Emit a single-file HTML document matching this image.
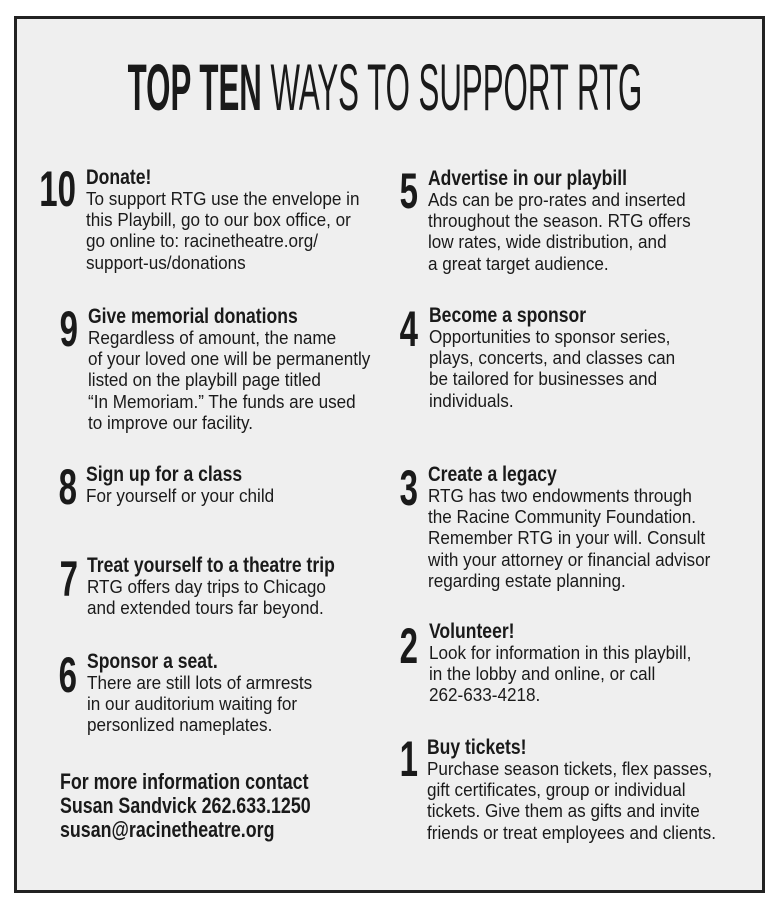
<!DOCTYPE html>
<html><head><meta charset="utf-8">
<style>
html,body{margin:0;padding:0;background:#fff;}
body{width:783px;height:911px;position:relative;overflow:hidden;font-family:"Liberation Sans Narrow","Liberation Sans",sans-serif;color:#1a1a1a;}
#frame{position:absolute;left:14px;top:16px;width:745px;height:871px;border:3px solid #222;background:#efefef;}
#title{position:absolute;left:385px;top:52px;white-space:nowrap;font-size:66px;line-height:70px;transform:translateX(-50%) scaleX(0.473);transform-origin:center;}
#title b{font-weight:bold;}
.item{position:absolute;}
.num{position:absolute;font-weight:bold;font-size:50px;line-height:50px;transform:scaleX(0.66);transform-origin:right top;text-align:right;width:60px;}
.h{font-weight:bold;font-size:21px;line-height:22px;white-space:nowrap;transform:scaleX(0.836);transform-origin:left top;}
.b{font-size:18px;line-height:21.2px;white-space:nowrap;transform:scaleX(0.95);transform-origin:left top;}
#contact{position:absolute;left:60px;top:770px;font-weight:bold;font-size:22px;line-height:24px;white-space:nowrap;transform:scaleX(0.81);transform-origin:left top;}
</style></head><body>
<div id="frame"></div>
<div id="title"><b>TOP TEN</b> WAYS TO SUPPORT RTG</div>

<div class="num" style="left:16px;top:164px">10</div>
<div class="item" style="left:86px;top:167px">
<div class="h">Donate!</div>
<div class="b">To support RTG use the envelope in<br>this Playbill, go to our box office, or<br>go online to: racinetheatre.org/<br>support-us/donations</div></div>

<div class="num" style="left:18px;top:304px">9</div>
<div class="item" style="left:88px;top:306px">
<div class="h">Give memorial donations</div>
<div class="b">Regardless of amount, the name<br>of your loved one will be permanently<br>listed on the playbill page titled<br>“In Memoriam.” The funds are used<br>to improve our facility.</div></div>

<div class="num" style="left:17px;top:462px">8</div>
<div class="item" style="left:86px;top:464px">
<div class="h">Sign up for a class</div>
<div class="b">For yourself or your child</div></div>

<div class="num" style="left:18px;top:554px">7</div>
<div class="item" style="left:87px;top:555px">
<div class="h">Treat yourself to a theatre trip</div>
<div class="b">RTG offers day trips to Chicago<br>and extended tours far beyond.</div></div>

<div class="num" style="left:17px;top:650px">6</div>
<div class="item" style="left:87px;top:651px">
<div class="h">Sponsor a seat.</div>
<div class="b">There are still lots of armrests<br>in our auditorium waiting for<br>personlized nameplates.</div></div>

<div id="contact">For more information contact<br>Susan Sandvick 262.633.1250<br>susan@racinetheatre.org</div>

<div class="num" style="left:358px;top:166px">5</div>
<div class="item" style="left:428px;top:168px">
<div class="h">Advertise in our playbill</div>
<div class="b">Ads can be pro-rates and inserted<br>throughout the season. RTG offers<br>low rates, wide distribution, and<br>a great target audience.</div></div>

<div class="num" style="left:358px;top:304px">4</div>
<div class="item" style="left:429px;top:305px">
<div class="h">Become a sponsor</div>
<div class="b">Opportunities to sponsor series,<br>plays, concerts, and classes can<br>be tailored for businesses and<br>individuals.</div></div>

<div class="num" style="left:358px;top:463px">3</div>
<div class="item" style="left:428px;top:464px">
<div class="h">Create a legacy</div>
<div class="b">RTG has two endowments through<br>the Racine Community Foundation.<br>Remember RTG in your will. Consult<br>with your attorney or financial advisor<br>regarding estate planning.</div></div>

<div class="num" style="left:358px;top:621px">2</div>
<div class="item" style="left:429px;top:621px">
<div class="h">Volunteer!</div>
<div class="b">Look for information in this playbill,<br>in the lobby and online, or call<br>262-633-4218.</div></div>

<div class="num" style="left:358px;top:734px">1</div>
<div class="item" style="left:427px;top:737px">
<div class="h">Buy tickets!</div>
<div class="b">Purchase season tickets, flex passes,<br>gift certificates, group or individual<br>tickets. Give them as gifts and invite<br>friends or treat employees and clients.</div></div>
</body></html>
